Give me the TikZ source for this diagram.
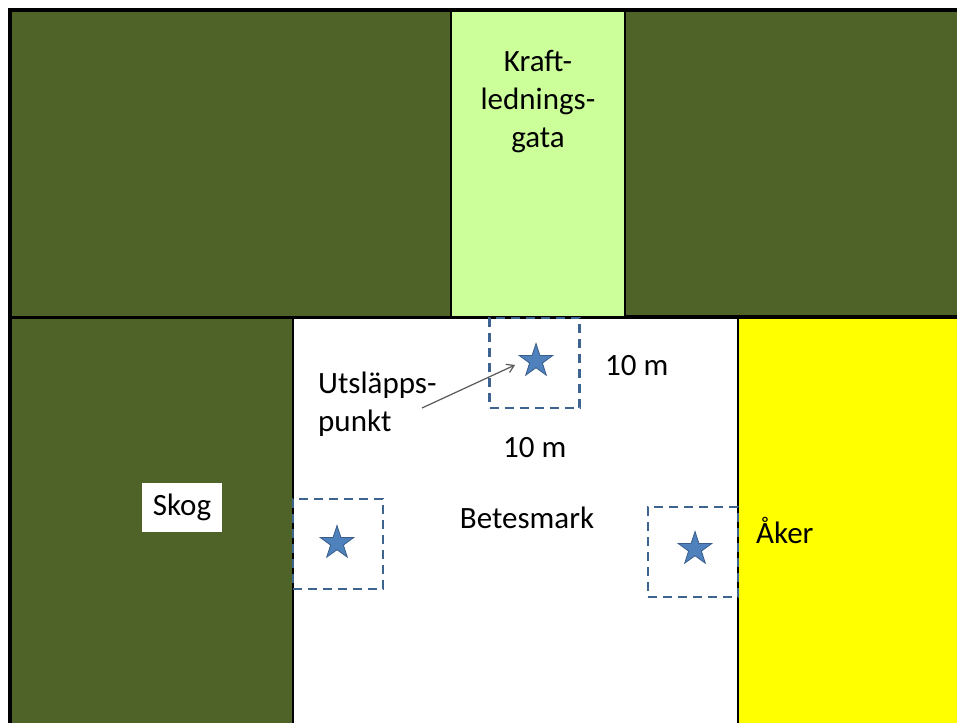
\documentclass[tikz,border=0pt]{standalone}
\usepackage{fontspec}
\setmainfont{Carlito}
\usetikzlibrary{shapes.geometric,arrows.meta}
\definecolor{darkgreen}{HTML}{4F6228}
\definecolor{lightgreen}{HTML}{CCFF99}
\definecolor{fieldyellow}{HTML}{FFFF00}
\definecolor{dashblue}{HTML}{3D6391}
\definecolor{starfill}{HTML}{4F81BD}
\definecolor{starline}{HTML}{385D8A}
\definecolor{arrowgray}{HTML}{595959}
\tikzset{
  area/.style={draw=black, line width=2.5pt},
  lbl/.style={font=\fontsize{31}{38}\selectfont, inner sep=0pt, text=black},
  zone/.style={draw=dashblue, line width=2.2pt, dash pattern=on 9pt off 6pt, minimum width=90pt, minimum height=90pt, inner sep=0pt},
  pstar/.style={star, star points=5, star point ratio=2.6, fill=starfill, draw=starline, line width=0.8pt, minimum size=35pt, inner sep=0pt},
}
\begin{document}
\begin{tikzpicture}[x=1pt,y=-1pt]
\useasboundingbox (0,0) rectangle (957,722);
\clip (0,0) rectangle (957,722);
\fill[white] (0,0) rectangle (957,722);
% regions
\draw[area, fill=darkgreen] (11,11) rectangle (451,317);
\draw[area, fill=lightgreen] (451,11) rectangle (625,317);
\draw[area, fill=darkgreen] (625,11) rectangle (965,316);
\draw[area, fill=darkgreen] (11,318) rectangle (293,730);
\draw[area, fill=white] (293,318) rectangle (738,730);
\draw[area, fill=fieldyellow] (738,318) rectangle (965,730);
\draw[line width=3.5pt] (10,730) -- (10,10) -- (965,10);
% labels
\node[lbl, align=center] (kraft) at (538,102) {Kraft-\\lednings-\\gata};
\node[lbl, fill=white, minimum width=80pt, minimum height=49pt] (skog) at (182,507) {Skog};
\node[lbl] (betes) at (527,518) {Betesmark};
\node[lbl, anchor=west] (aker) at (756,530) {Åker};
\node[lbl, anchor=west] (tenr) at (605,366) {10 m};
\node[lbl, anchor=west] (tenb) at (503,448) {10 m};
\node[lbl, anchor=west, align=left] (utsl) at (318,404) {Utsläpps-\\punkt};
% zones with stars
\node[zone] (z1) at (534.5,363) {};
\node[zone] (z2) at (338,544) {};
\node[zone] (z3) at (693,552) {};
\node[pstar] (s1) at (536,361) {};
\node[pstar] (s2) at (337,543) {};
\node[pstar] (s3) at (695,549) {};
% arrow
\coordinate (ua) at (422,408);
\coordinate (ub) at (515,365);
\draw[arrowgray, line width=1.2pt, -{Straight Barb[length=7pt,width=9pt]}] (ua) -- (ub);
\end{tikzpicture}
\end{document}
